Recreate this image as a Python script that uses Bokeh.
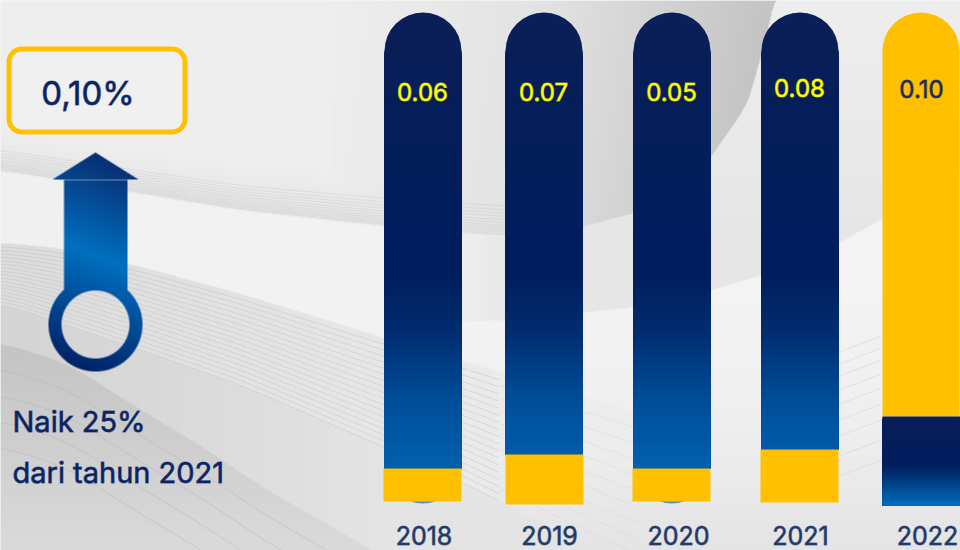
import numpy as np
from bokeh.plotting import figure
from bokeh.models import Range1d
from bokeh.core.properties import value
from bokeh.embed import file_html
from bokeh.resources import INLINE

# ---- chart values ----
years = ["2018", "2019", "2020", "2021", "2022"]
values = [0.06, 0.07, 0.05, 0.08, 0.10]
value_labels = ["0.06", "0.07", "0.05", "0.08", "0.10"]
headline = "0,10%"
note_lines = ["Naik 25%", "dari tahun 2021"]

# ---- layout (pixels of the 960x550 page) ----
W, H = 960, 550
bar_left = [384, 505, 633, 761]
BAR_W = 77
BAR_TOP = 12
seg_left = [383, 505, 632, 760]
seg_right = [461, 583, 710, 838]
seg_top = [468, 454, 468, 449]
seg_bottom = [501, 504, 501, 502]
foot_over = [2, 0, 2, 0]
hero_left, hero_right = 882, 960
hero_split, hero_bottom = 416, 505
label_x = [423.5, 549, 678, 800, 927]
label_y = [534.5, 534.5, 535, 535, 535]
val_x = [422, 543, 671, 799, 921]
val_y = [91, 91, 91, 87, 88]

NAVY_Y = [50, 280, 330, 400, 470, 505]
NAVY_C = [(10, 30, 88), (0, 32, 96), (0, 46, 112), (0, 78, 152), (0, 98, 176), (0, 112, 192)]
HERO_Y = [416, 465, 485, 505]
HERO_C = [(10, 30, 88), (0, 32, 96), (0, 70, 140), (0, 112, 192)]
YELLOW = "#ffc000"
TEXT_NAVY = "#0a2463"
YEAR_C = "#1f3a68"
FONT = "Inter"
OUTLINE = "a0"  # alpha of the thin text outline that thickens the regular weight

X, Y = np.meshgrid(np.arange(W) + .5, np.arange(H) + .5)
xc = X[0]


def smooth(v, n=25):
    pad = np.pad(v, n, mode="edge")
    return np.convolve(pad, np.ones(2 * n + 1) / (2 * n + 1), mode="valid")


def curve(xs, ys, s=25):
    return smooth(np.interp(xc, xs, ys), s)


# Background surfaces, painted one over the other
env_top = curve([0, 240, 384, 500, 700], [133, 165, 175, 180, 185])
env_bot = curve([0, 240, 384, 500, 700], [170, 210, 226, 236, 240])
sph_edge = curve([180, 300, 400, 500, 582, 633, 680, 710, 736, 748, 765, 774, 775, 960],
                 [218, 228, 234, 235, 226, 213, 183, 157, 120, 100, 40, 0, -1, -1], 3)
sph_edge = np.minimum(sph_edge, env_bot)
back_edge = curve([440, 500, 582, 633, 710, 760, 838, 882, 960], [322, 320, 312, 307, 290, 275, 243, 218, 172], 6)
top2 = curve([0, 63, 128, 240, 383, 461, 560, 700, 960], [242, 248, 263, 293, 337, 360, 390, 430, 500])
bot2 = curve([0, 140, 240, 383, 461, 560, 600, 700], [303, 350, 385, 447, 482, 532, 552, 600])
dark = curve([0, 67, 133, 200, 267, 373, 400], [342, 363, 405, 445, 490, 550, 570])

bg = np.full((H, W), 238.0)
band1 = (Y > env_top[None, :]) & (Y <= env_bot[None, :])
frac = np.clip((Y - env_top[None, :]) / (env_bot - env_top)[None, :], 0, 1)
band1_g = 238 - 10 * frac
bg[band1] = band1_g[band1]
# white band under the first lines
below1 = Y > env_bot[None, :]
bg[below1] = 240 + np.clip(X[below1] / 200, 0, 1) * 2
# sphere shading
sph = (Y <= sph_edge[None, :]) & (X > 330)
sph_g = np.interp(X + .15 * Y, [330, 450, 550, 650, 770], [238, 232, 226, 212, 196])
sph_g = np.minimum(sph_g, np.where(band1, band1_g, 300))
bg[sph] = sph_g[sph]
# backdrop behind the sphere
back = (Y <= back_edge[None, :]) & (Y > sph_edge[None, :]) & (X > 440)
back_g = np.interp(X, [440, 520, 960], [241, 230, 230]) + np.clip((240 - Y) / 240, 0, 1) * 8
bg[back] = back_g[back]
# right half: soft darkening towards the bottom
low = (Y > back_edge[None, :]) & (X > 440)
low_g = np.interp(Y, [300, 400, 500, 550], [243, 240, 233, 228])
bg[low] = low_g[low]
# lined band
b2 = (Y > top2[None, :]) & (Y <= bot2[None, :])
b2_g = np.interp(X, [0, 140, 383, 520], [220, 224, 231, 236])
bg[b2] = np.minimum(bg, b2_g)[b2]
# layer under it
b3 = Y > bot2[None, :]
b3_g = np.interp(X, [0, 140, 383, 600, 960], [212, 216, 228, 229, 229])
bg[b3] = b3_g[b3]
# darkest layer
b4 = Y > dark[None, :]
b4_g = np.interp(Y, [342, 430, 550], [196, 205, 218])
bg[b4] = b4_g[b4]


def rgba(r, g, b, a=None):
    a = np.full(r.shape, 255.0) if a is None else a
    return (np.clip(a, 0, 255).astype(np.uint32) << 24 | np.clip(b, 0, 255).astype(np.uint32) << 16
            | np.clip(g, 0, 255).astype(np.uint32) << 8 | np.clip(r, 0, 255).astype(np.uint32))


bg_img = rgba(bg, bg, bg)

# Arrow with ring: coverage mask and a slanted gradient
ax, ay = 95.0, 324.0
dist = np.hypot(X - ax, Y - ay)
ring = np.clip(47.5 - dist, 0, 1) * np.clip(dist - 33.5, 0, 1)
shaft = np.clip(X - 63, 0, 1) * np.clip(127.5 - X, 0, 1) * np.clip(Y - 179, 0, 1) * np.clip(291 - Y, 0, 1)
shaft = shaft * np.clip(dist - 33.5, 0, 1)
half = (Y - 152) * 43 / 27
head = np.clip(half - np.abs(X - ax) + .5, 0, 1) * np.clip(179.5 - Y, 0, 1)
alpha = np.maximum.reduce([ring, shaft, head]) * 255
t = Y - .4 * (X - ax)
ar = np.interp(t, [140, 255, 371], [10, 0, 0])
ag = np.interp(t, [140, 255, 371], [38, 112, 36])
ab = np.interp(t, [140, 255, 371], [104, 192, 106])
arrow_img = rgba(ar, ag, ab, alpha)

p = figure(width=W, height=H, x_range=Range1d(0, W), y_range=Range1d(H, 0),
           x_axis_location=None, y_axis_location=None, toolbar_location=None,
           output_backend="svg", min_border=0, outline_line_color=None,
           background_fill_color="#eeeeee", border_fill_color="#eeeeee")
p.grid.visible = False
p.styles = {"position": "absolute", "left": "0", "top": "0"}

p.image_rgba(image=[bg_img], x=0, y=0, dw=W, dh=H)


# Fine lines on the surfaces
def fan(lo, hi, fr, color, alpha, x0=0, x1=W):
    m = (xc >= x0) & (xc <= x1)
    xs = [xc[m][::6].tolist() for _ in fr]
    ys = [(lo + (hi - lo) * f)[m][::6].tolist() for f in fr]
    p.multi_line(xs, ys, line_color=color, line_alpha=alpha, line_width=1)


fan(env_top, env_bot, [.45, .52, .58, .64, .7, .75, .8, .84, .88, .92, .96], "#c0c0c0", .3, 0, 520)
fan(top2, bot2, np.arange(.06, 1, .055), "#bcbcbc", .4, 0, 500)
fan(top2, bot2, np.arange(.1, 1, .1), "#c8c8c8", .25, 500, 640)
fan(dark, dark + 130, [.2, .4, .6, .8], "#b8b8b8", .5, 0, 330)
rise = curve([838, 882], [352, 335], 0)
for off in [0, 12, 24, 38, 52, 68, 84, 104, 124]:
    p.line(xc[838:882][::6], (rise + off)[838:882][::6], line_color="#c4c4c4", line_alpha=.35, line_width=1)

p.image_rgba(image=[arrow_img], x=0, y=0, dw=W, dh=H)

# Headline box with rounded corners
L, R, T, B, r = 8.5, 184.5, 48.5, 131.5, 13
ang = np.linspace(0, np.pi / 2, 10)
bx = np.concatenate([L + r - r * np.cos(ang), R - r + r * np.sin(ang), R - r + r * np.cos(ang), L + r - r * np.sin(ang)])
by = np.concatenate([T + r - r * np.sin(ang), T + r - r * np.cos(ang), B - r + r * np.sin(ang), B - r + r * np.cos(ang)])
p.patch(bx, by, fill_color="#f2f2f2", fill_alpha=.6, line_color=YELLOW, line_width=5, line_join="round")
p.text([87.5], [92], text=[headline], text_font=value(FONT), text_font_size="33px", text_color=TEXT_NAVY,
       outline_color=TEXT_NAVY + OUTLINE, text_align="center", text_baseline="middle")

p.text([12], [421], text=[note_lines[0]], text_font=value(FONT), text_font_size="29px", text_color=TEXT_NAVY,
       outline_color=TEXT_NAVY + OUTLINE, text_align="left", text_baseline="middle")
p.text([12], [472], text=[note_lines[1]], text_font=value(FONT), text_font_size="29px", text_color=TEXT_NAVY,
       outline_color=TEXT_NAVY + OUTLINE, text_align="left", text_baseline="middle")


def gradient(left, right, y0, y1, ys, cs):
    rows = np.arange(y0, y1)
    col = ["#%02x%02x%02x" % tuple(int(np.interp(v, ys, [c[i] for c in cs])) for i in range(3)) for v in rows]
    p.quad(left=[left] * len(rows), right=[right] * len(rows), top=rows.tolist(), bottom=[y1] * len(rows),
           fill_color=col, line_color=None)


# Navy bars with a round top, a hidden round foot and the yellow value segment
for i, left in enumerate(bar_left):
    rad = BAR_W / 2
    cx = left + rad
    p.circle([cx], [BAR_TOP + rad], radius=rad, fill_color="#0a1e58", line_color=None)
    if foot_over[i]:
        p.circle([cx], [seg_bottom[i] + foot_over[i] - rad], radius=rad, fill_color="#5a90c4", line_color=None)
    gradient(left, left + BAR_W, int(BAR_TOP + rad), seg_top[i], NAVY_Y, NAVY_C)
    p.quad(left=[seg_left[i]], right=[seg_right[i]], top=[seg_top[i]], bottom=[seg_bottom[i]],
           fill_color=YELLOW, line_color=None)

# Highlighted last year
rad = (hero_right - 1 - hero_left) / 2
p.circle([hero_left + rad], [BAR_TOP + rad], radius=rad, fill_color=YELLOW, line_color=None)
p.quad(left=[hero_left], right=[hero_right - 1], top=[BAR_TOP + rad], bottom=[hero_split],
       fill_color=YELLOW, line_color=None)
gradient(hero_left, hero_right, hero_split, hero_bottom, HERO_Y, HERO_C)

p.text(val_x[:4], val_y[:4], text=value_labels[:4], text_font=value(FONT), text_font_size="24px",
       text_color="#ffff00", outline_color="#ffff00" + OUTLINE, text_align="center", text_baseline="middle")
p.text(val_x[4:], val_y[4:], text=value_labels[4:], text_font=value(FONT), text_font_size="24px",
       text_color="#1c2b5a", outline_color="#1c2b5a" + OUTLINE, text_align="center", text_baseline="middle")
p.text(label_x, label_y, text=years, text_font=value(FONT), text_font_size="25px", text_color=YEAR_C,
       outline_color=YEAR_C + OUTLINE, text_align="center", text_baseline="middle")

open("out.html", "w").write(file_html(p, INLINE))
